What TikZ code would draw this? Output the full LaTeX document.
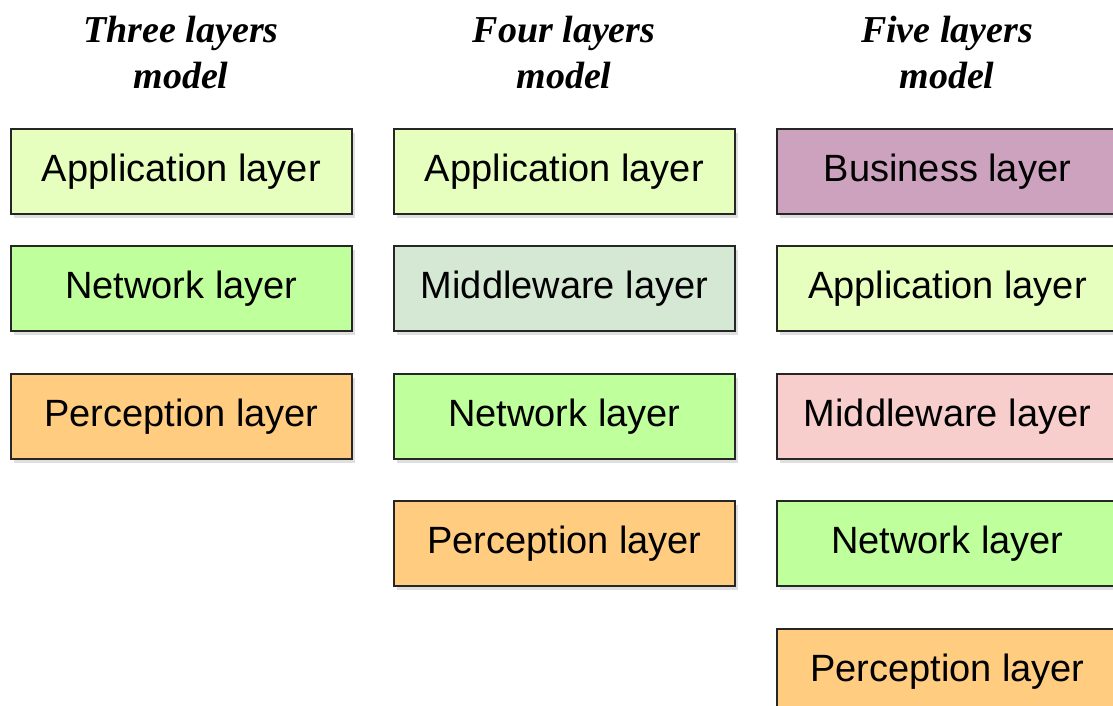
\documentclass[tikz,border=0pt]{standalone}
\usepackage{fontspec}
\setmainfont{Liberation Sans}
\newfontfamily\titlefont{Liberation Serif}
\usetikzlibrary{shadows}

\definecolor{appcol}{HTML}{E6FFBF}
\definecolor{netcol}{HTML}{BFFF9C}
\definecolor{midcol}{HTML}{D5E8D4}
\definecolor{midred}{HTML}{F8CECC}
\definecolor{percol}{HTML}{FFCC80}
\definecolor{buscol}{HTML}{CDA2BE}

\tikzset{
  layerbox/.style={draw=black!85, line width=1.8pt, anchor=north west,
    minimum width=341pt, minimum height=85pt, inner sep=0pt,
    font=\fontsize{38}{44}\selectfont,
    drop shadow={shadow xshift=3pt, shadow yshift=-4pt, opacity=0.25}},
  modeltitle/.style={align=center, inner sep=0pt,
    font=\titlefont\bfseries\itshape\fontsize{38}{46}\selectfont}
}

\begin{document}
\begin{tikzpicture}[x=1pt, y=-1pt]
        % Rahmen
        \useasboundingbox (0,0) rectangle (1113,706);
        \clip (0,0) rectangle (1113,706);
        % Titel
        \node[modeltitle] (t3) at (181,53) {Three layers\\model};
        \node[modeltitle] (t4) at (564,53) {Four layers\\model};
        \node[modeltitle] (t5) at (947,53) {Five layers\\model};
        % drei Schichten
        \node[layerbox, fill=appcol] (a3) at (10,128) {Application layer};
        \node[layerbox, fill=netcol] (n3) at (10,245) {Network layer};
        \node[layerbox, fill=percol] (p3) at (10,373) {Perception layer};
        % vier Schichten
        \node[layerbox, fill=appcol] (a4) at (393,128) {Application layer};
        \node[layerbox, fill=midcol] (m4) at (393,245) {Middleware layer};
        \node[layerbox, fill=netcol] (n4) at (393,373) {Network layer};
        \node[layerbox, fill=percol] (p4) at (393,500) {Perception layer};
        % fuenf Schichten
        \node[layerbox, fill=buscol] (b5) at (776,128) {Business layer};
        \node[layerbox, fill=appcol] (a5) at (776,245) {Application layer};
        \node[layerbox, fill=midred] (m5) at (776,373) {Middleware layer};
        \node[layerbox, fill=netcol] (n5) at (776,500) {Network layer};
        \node[layerbox, fill=percol] (p5) at (776,628) {Perception layer};
    \end{tikzpicture}
\end{document}
